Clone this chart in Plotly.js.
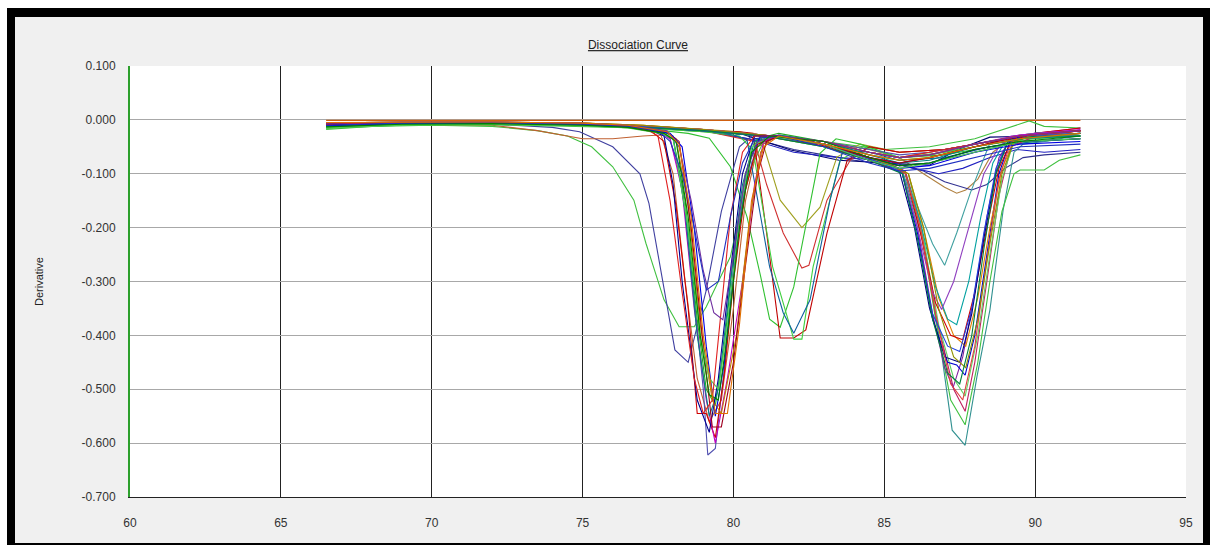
<!DOCTYPE html>
<html><head><meta charset="utf-8">
<script src="https://cdn.plot.ly/plotly-3.0.1.min.js"></script>
<style>
html,body{margin:0;padding:0;background:#fff;}
#frame{position:absolute;left:7px;top:8px;border-style:solid;border-color:#000;border-width:9px 8px 8px 8px;width:1188px;height:526px;background:#f0f0f0;}
#chart{width:1188px;height:526px;}
</style></head><body><div id="frame"><div id="chart"></div></div>
<script>
// ---- tick labels ----
const xTicks = [60, 65, 70, 75, 80, 85, 90, 95];
const xTickText = ['60', '65', '70', '75', '80', '85', '90', '95'];
const yTicks = [0.1, 0, -0.1, -0.2, -0.3, -0.4, -0.5, -0.6, -0.7];
const yTickText = ['0.100', '0.000', '-0.100', '-0.200', '-0.300', '-0.400', '-0.500', '-0.600', '-0.700'];

// ---- curves: temperature (°C) and derivative ----
const tFlat = [66.5, 70, 75, 80, 85, 91.5];
const dFlat = [-0.001, -0.001, -0.001, -0.001, -0.001, -0.001];

// peak near 79 °C
const tA1 = [66.5, 69, 72, 75, 76.5, 77.5, 77.9, 78.3, 78.7, 79.0, 79.15, 79.4, 79.7, 80.0, 80.4, 80.8, 81.5, 83, 84.5, 85.5, 86.5, 88, 89.5, 91.5];
const dA1 = [-0.008, -0.005, -0.005, -0.008, -0.012, -0.02, -0.035, -0.12, -0.33, -0.5, -0.622, -0.61, -0.46, -0.28, -0.12, -0.045, -0.03, -0.04, -0.055, -0.065, -0.06, -0.045, -0.03, -0.025];
const tA2 = [66.5, 69, 72, 75, 76.5, 77.3, 77.7, 78.1, 78.5, 78.8, 79.1, 79.4, 79.7, 80.0, 80.4, 80.8, 81.5, 83, 84.5, 85.5, 86.5, 88, 89.5, 91.5];
const dA2 = [-0.009, -0.006, -0.005, -0.008, -0.013, -0.022, -0.04, -0.16, -0.35, -0.545, -0.545, -0.59, -0.47, -0.3, -0.13, -0.045, -0.03, -0.045, -0.07, -0.08, -0.07, -0.05, -0.03, -0.02];
const tA3 = [66.5, 69, 72, 75, 76.5, 77.5, 77.9, 78.3, 78.7, 79.1, 79.4, 79.8, 80.3, 80.7, 81.0, 81.5, 83, 84.5, 85.5, 86.5, 88, 89.5, 91.5];
const dA3 = [-0.007, -0.005, -0.004, -0.007, -0.011, -0.02, -0.035, -0.13, -0.35, -0.52, -0.6, -0.48, -0.3, -0.12, -0.04, -0.028, -0.04, -0.06, -0.07, -0.065, -0.045, -0.028, -0.018];
const tA4 = [66.5, 69, 72, 75, 76.5, 77.6, 78.0, 78.4, 78.8, 79.1, 79.4, 79.7, 80.0, 80.4, 80.8, 81.5, 83, 84.5, 85.5, 86.5, 88, 89.5, 91.5];
const dA4 = [-0.012, -0.007, -0.006, -0.009, -0.013, -0.022, -0.035, -0.15, -0.37, -0.5, -0.53, -0.42, -0.25, -0.1, -0.035, -0.025, -0.04, -0.065, -0.075, -0.07, -0.05, -0.035, -0.025];
const tA5 = [66.5, 69, 72, 75, 76.5, 77.7, 78.1, 78.5, 78.9, 79.3, 79.6, 80.1, 80.5, 80.9, 81.3, 83, 84.5, 85.5, 86.5, 88, 89.5, 91.5];
const dA5 = [-0.006, -0.004, -0.004, -0.007, -0.011, -0.022, -0.035, -0.16, -0.38, -0.52, -0.545, -0.4, -0.2, -0.06, -0.03, -0.04, -0.06, -0.07, -0.065, -0.045, -0.03, -0.02];
const tA6 = [66.5, 69, 72, 75, 76.5, 77.6, 78.0, 78.4, 78.8, 79.2, 79.5, 79.9, 80.3, 80.7, 81.5, 83, 84.5, 85.5, 86.5, 88, 89.5, 91.5];
const dA6 = [-0.01, -0.006, -0.006, -0.008, -0.012, -0.02, -0.03, -0.17, -0.4, -0.55, -0.5, -0.3, -0.12, -0.04, -0.028, -0.04, -0.065, -0.08, -0.075, -0.05, -0.035, -0.03];
const tA7 = [66.5, 69, 72, 75, 76.5, 77.3, 77.7, 78.0, 78.3, 78.8, 79.2, 79.5, 79.9, 80.3, 80.7, 81.5, 83, 84.5, 85.5, 86.5, 88, 89.5, 91.5];
const dA7 = [-0.009, -0.006, -0.005, -0.008, -0.012, -0.02, -0.03, -0.12, -0.3, -0.52, -0.58, -0.48, -0.28, -0.1, -0.03, -0.03, -0.045, -0.07, -0.085, -0.08, -0.055, -0.04, -0.035];
const tA8 = [66.5, 69, 72, 75, 76.5, 77.8, 78.2, 78.6, 79.0, 79.3, 79.6, 80.0, 80.4, 80.8, 81.1, 81.5, 83, 84.5, 85.5, 86.5, 88, 89.5, 91.5];
const dA8 = [-0.007, -0.005, -0.005, -0.007, -0.011, -0.022, -0.04, -0.2, -0.42, -0.57, -0.57, -0.45, -0.27, -0.1, -0.04, -0.03, -0.045, -0.07, -0.08, -0.07, -0.05, -0.03, -0.02];
const tA9 = [66.5, 69, 72, 75, 76.5, 77.9, 78.3, 78.7, 79.1, 79.4, 79.7, 80.1, 80.5, 80.9, 81.5, 83, 84.5, 85.5, 86.5, 88, 89.5, 91.5];
const dA9 = [-0.011, -0.007, -0.006, -0.009, -0.013, -0.025, -0.05, -0.2, -0.42, -0.55, -0.45, -0.22, -0.08, -0.03, -0.03, -0.045, -0.075, -0.09, -0.085, -0.06, -0.045, -0.04];
const tA10 = [66.5, 69, 72, 75, 76.5, 77.6, 78.0, 78.5, 78.9, 79.2, 79.5, 79.8, 80.2, 80.6, 81.2, 83, 84.5, 85.5, 86.5, 88, 89.5, 91.5];
const dA10 = [-0.015, -0.009, -0.008, -0.011, -0.015, -0.025, -0.035, -0.2, -0.4, -0.48, -0.5, -0.38, -0.18, -0.05, -0.03, -0.045, -0.075, -0.09, -0.08, -0.06, -0.04, -0.035];
const tA11 = [66.5, 69, 72, 75, 76.5, 77.2, 77.5, 77.9, 78.3, 78.7, 79.0, 79.3, 79.6, 79.9, 80.3, 80.7, 81.5, 83, 84.5, 85.5, 86.5, 88, 89.5, 91.5];
const dA11 = [-0.008, -0.005, -0.005, -0.007, -0.012, -0.02, -0.03, -0.15, -0.32, -0.48, -0.545, -0.52, -0.35, -0.18, -0.06, -0.03, -0.03, -0.04, -0.06, -0.07, -0.06, -0.045, -0.03, -0.02];
const tA12 = [66.5, 69, 72, 75, 76.5, 77.8, 78.2, 78.6, 79.0, 79.35, 79.65, 80.0, 80.4, 80.8, 81.5, 83, 84.5, 85.5, 86.5, 88, 89.5, 91.5];
const dA12 = [-0.006, -0.004, -0.004, -0.006, -0.01, -0.02, -0.05, -0.15, -0.28, -0.358, -0.371, -0.25, -0.1, -0.04, -0.03, -0.04, -0.06, -0.07, -0.065, -0.045, -0.03, -0.02];
const tA13 = [66.5, 69, 72, 75, 76.5, 77.5, 77.9, 78.3, 78.7, 79.1, 79.5, 79.9, 80.3, 80.7, 81.5, 83, 84.5, 85.5, 86.5, 88, 89.5, 91.5];
const dA13 = [-0.01, -0.006, -0.005, -0.008, -0.012, -0.02, -0.04, -0.1, -0.2, -0.316, -0.3, -0.18, -0.08, -0.035, -0.03, -0.05, -0.08, -0.095, -0.09, -0.07, -0.05, -0.045];
const tA14 = [66.5, 69, 72, 75, 76.5, 77.7, 78.1, 78.5, 78.9, 79.2, 79.5, 79.8, 80.2, 80.6, 81.2, 83, 84.5, 85.5, 86.5, 88, 89.5, 91.5];
const dA14 = [-0.013, -0.008, -0.007, -0.01, -0.014, -0.025, -0.04, -0.18, -0.4, -0.51, -0.52, -0.4, -0.2, -0.06, -0.03, -0.04, -0.07, -0.085, -0.08, -0.055, -0.04, -0.03];
const tA15 = [66.5, 69, 72, 75, 76.5, 77.8, 78.2, 78.6, 79.0, 79.4, 79.8, 80.2, 80.6, 81.0, 81.5, 83, 84.5, 85.5, 86.5, 88, 89.5, 91.5];
const dA15 = [-0.005, -0.004, -0.004, -0.006, -0.01, -0.022, -0.045, -0.18, -0.4, -0.545, -0.545, -0.38, -0.15, -0.05, -0.03, -0.045, -0.065, -0.075, -0.07, -0.05, -0.035, -0.025];

// early, broad peaks
const tE1 = [66.5, 68, 70, 72, 73.5, 74.5, 75.3, 76.0, 76.7, 77.1, 77.7, 78.2, 78.7, 79.1, 79.5, 79.9, 80.3, 80.6, 81.0, 81.5, 83, 84.5, 85.5, 86.5, 88, 89.5, 91.5];
const dE1 = [-0.018, -0.012, -0.01, -0.012, -0.02, -0.03, -0.05, -0.087, -0.149, -0.229, -0.334, -0.384, -0.384, -0.347, -0.3, -0.254, -0.15, -0.087, -0.04, -0.03, -0.04, -0.06, -0.07, -0.065, -0.05, -0.035, -0.03];
const tE2 = [66.5, 68, 70, 72, 74, 74.9, 76.0, 76.9, 77.2, 77.67, 78.06, 78.5, 79.1, 79.6, 80.2, 80.6, 81.5, 83, 84.5, 85.5, 86.5, 88, 89.5, 91.5];
const dE2 = [-0.012, -0.008, -0.007, -0.008, -0.014, -0.022, -0.05, -0.1, -0.155, -0.3, -0.427, -0.45, -0.316, -0.17, -0.05, -0.03, -0.03, -0.045, -0.07, -0.085, -0.08, -0.06, -0.04, -0.035];
const tE3 = [66.5, 69, 72, 73.5, 75, 76, 77, 77.6, 78.0, 78.4, 78.8, 79.2, 79.6, 80.0, 80.4, 80.8, 81.5, 83, 84.5, 85.5, 86.5, 88, 89.5, 91.5];
const dE3 = [-0.012, -0.008, -0.01, -0.02, -0.035, -0.035, -0.03, -0.028, -0.1, -0.3, -0.48, -0.56, -0.52, -0.35, -0.15, -0.05, -0.03, -0.04, -0.06, -0.07, -0.06, -0.045, -0.03, -0.02];

// peak near 82 °C
const tB1 = [66.5, 69, 72, 75, 77, 79, 80.2, 80.9, 81.55, 82.27, 82.87, 83.43, 84.2, 85.5, 87, 88.5, 90, 91.5];
const dB1 = [-0.006, -0.004, -0.004, -0.006, -0.01, -0.018, -0.022, -0.03, -0.149, -0.2, -0.162, -0.069, -0.045, -0.06, -0.055, -0.04, -0.03, -0.02];
const tB2 = [66.5, 69, 72, 75, 77, 79, 80.7, 81.1, 81.65, 82.27, 82.5, 83.1, 83.87, 84.5, 85.5, 87, 88.5, 90, 91.5];
const dB2 = [-0.008, -0.005, -0.005, -0.007, -0.012, -0.02, -0.04, -0.12, -0.21, -0.275, -0.27, -0.149, -0.075, -0.05, -0.06, -0.055, -0.04, -0.03, -0.02];
const tB3 = [66.5, 69, 72, 75, 77, 78.5, 79.2, 79.9, 80.45, 80.9, 81.2, 81.55, 82.0, 82.45, 82.87, 83.4, 84.2, 85.5, 87, 88.5, 90, 91.5];
const dB3 = [-0.014, -0.009, -0.008, -0.011, -0.016, -0.025, -0.034, -0.087, -0.18, -0.29, -0.37, -0.385, -0.31, -0.18, -0.062, -0.035, -0.045, -0.07, -0.065, -0.05, -0.04, -0.035];
const tB4 = [66.5, 69, 72, 75, 77, 79, 80.2, 80.65, 81.1, 81.55, 82.0, 82.4, 83.1, 83.77, 84.5, 85.5, 87, 88.5, 90, 91.5];
const dB4 = [-0.009, -0.006, -0.005, -0.008, -0.012, -0.02, -0.022, -0.025, -0.21, -0.405, -0.405, -0.39, -0.21, -0.075, -0.05, -0.06, -0.055, -0.04, -0.03, -0.02];
const tB5 = [66.5, 69, 72, 75, 77, 79, 80.2, 80.65, 81.3, 82.0, 82.27, 82.64, 83.53, 84.3, 85.5, 87, 88.5, 90, 91.5];
const dB5 = [-0.015, -0.009, -0.008, -0.011, -0.015, -0.022, -0.03, -0.056, -0.273, -0.407, -0.407, -0.273, -0.075, -0.05, -0.07, -0.06, -0.045, -0.035, -0.03];
const tB6 = [66.5, 69, 72, 75, 77, 79, 80.0, 80.45, 81.2, 81.65, 82.0, 82.54, 83.2, 83.63, 84.5, 85.5, 87, 88.5, 90, 91.5];
const dB6 = [-0.01, -0.006, -0.006, -0.008, -0.012, -0.02, -0.028, -0.037, -0.273, -0.358, -0.396, -0.334, -0.149, -0.056, -0.06, -0.075, -0.07, -0.05, -0.04, -0.035];

// peak near 87.5 °C
const tC1 = [66.5, 69, 72, 75, 77, 79, 81, 83, 84.5, 85.2, 85.6, 86.3, 86.85, 87.25, 87.68, 88.07, 88.5, 88.94, 89.3, 89.6, 90.3, 90.8, 91.5];
const dC1 = [-0.012, -0.008, -0.007, -0.009, -0.013, -0.02, -0.03, -0.045, -0.07, -0.085, -0.093, -0.229, -0.414, -0.576, -0.604, -0.477, -0.353, -0.167, -0.06, -0.045, -0.04, -0.035, -0.03];
const tC2 = [66.5, 69, 72, 75, 77, 79, 81, 83, 84.5, 85.3, 85.7, 86.2, 86.7, 87.2, 87.68, 88.1, 88.5, 88.9, 89.3, 89.5, 90.3, 90.8, 91.5];
const dC2 = [-0.016, -0.01, -0.009, -0.012, -0.015, -0.022, -0.03, -0.05, -0.075, -0.09, -0.1, -0.2, -0.37, -0.52, -0.566, -0.45, -0.3, -0.17, -0.1, -0.093, -0.093, -0.075, -0.065];
const tC3 = [66.5, 69, 72, 75, 77, 79, 81, 83, 84.5, 85.3, 85.7, 86.2, 86.7, 87.3, 87.68, 88.0, 88.4, 88.8, 89.2, 90, 91.5];
const dC3 = [-0.008, -0.005, -0.005, -0.007, -0.011, -0.018, -0.028, -0.045, -0.07, -0.085, -0.095, -0.19, -0.36, -0.5, -0.541, -0.45, -0.3, -0.14, -0.05, -0.03, -0.02];
const tC4 = [66.5, 69, 72, 75, 77, 79, 81, 83, 84.5, 85.2, 85.6, 86.1, 86.6, 87.0, 87.28, 87.6, 88.0, 88.4, 88.8, 89.2, 90, 91.5];
const dC4 = [-0.007, -0.005, -0.005, -0.007, -0.011, -0.018, -0.028, -0.045, -0.07, -0.085, -0.1, -0.2, -0.36, -0.46, -0.497, -0.44, -0.32, -0.18, -0.07, -0.035, -0.025, -0.015];
const tC5 = [66.5, 69, 72, 75, 77, 79, 81, 83, 84.5, 85.3, 85.8, 86.3, 86.8, 87.3, 87.68, 88.1, 88.5, 88.9, 89.3, 90, 91.5];
const dC5 = [-0.014, -0.009, -0.008, -0.01, -0.014, -0.02, -0.03, -0.05, -0.075, -0.09, -0.1, -0.22, -0.38, -0.48, -0.513, -0.4, -0.25, -0.11, -0.04, -0.03, -0.025];
const tC6 = [66.5, 69, 72, 75, 77, 79, 81, 83, 84.5, 85.2, 85.6, 86.1, 86.6, 87.1, 87.4, 87.68, 88.0, 88.4, 88.8, 89.2, 90, 91.5];
const dC6 = [-0.01, -0.006, -0.006, -0.008, -0.012, -0.02, -0.03, -0.045, -0.07, -0.085, -0.1, -0.21, -0.37, -0.45, -0.455, -0.474, -0.4, -0.25, -0.1, -0.035, -0.025, -0.02];
const tC7 = [66.5, 69, 72, 75, 77, 79, 81, 83, 84.5, 85.3, 85.8, 86.3, 86.8, 87.3, 87.7, 88.1, 88.5, 88.9, 89.3, 90, 91.5];
const dC7 = [-0.006, -0.004, -0.004, -0.006, -0.01, -0.018, -0.028, -0.045, -0.07, -0.085, -0.1, -0.2, -0.33, -0.4, -0.42, -0.33, -0.2, -0.09, -0.04, -0.028, -0.02];
const tC8 = [66.5, 69, 72, 75, 77, 79, 81, 83, 84.5, 85.2, 85.7, 86.2, 86.7, 87.2, 87.6, 88.0, 88.4, 88.8, 89.2, 90, 91.5];
const dC8 = [-0.009, -0.006, -0.005, -0.008, -0.012, -0.02, -0.03, -0.048, -0.075, -0.09, -0.1, -0.21, -0.34, -0.4, -0.408, -0.32, -0.2, -0.09, -0.04, -0.025, -0.015];
const tC9 = [66.5, 69, 72, 75, 77, 79, 81, 83, 84.5, 85.1, 85.5, 86.0, 86.5, 87.0, 87.5, 87.9, 88.3, 88.7, 89.1, 90, 91.5];
const dC9 = [-0.009, -0.006, -0.005, -0.008, -0.012, -0.02, -0.03, -0.045, -0.07, -0.085, -0.095, -0.2, -0.35, -0.44, -0.45, -0.36, -0.22, -0.1, -0.04, -0.03, -0.025];
const tC10 = [66.5, 69, 72, 75, 77, 79, 81, 83, 84.5, 85.3, 85.7, 86.2, 86.7, 87.1, 87.4, 87.8, 88.2, 88.6, 89.0, 90, 91.5];
const dC10 = [-0.011, -0.007, -0.006, -0.009, -0.013, -0.02, -0.03, -0.045, -0.07, -0.085, -0.1, -0.19, -0.31, -0.37, -0.38, -0.3, -0.18, -0.08, -0.04, -0.03, -0.025];
const tC11 = [66.5, 69, 72, 75, 77, 79, 81, 83, 84.5, 85.2, 85.6, 86.1, 86.6, 86.9, 87.3, 87.8, 88.3, 88.8, 89.2, 90, 91.5];
const dC11 = [-0.007, -0.005, -0.005, -0.007, -0.011, -0.018, -0.028, -0.045, -0.07, -0.085, -0.1, -0.2, -0.32, -0.352, -0.3, -0.2, -0.1, -0.05, -0.03, -0.025, -0.02];
const tC12 = [66.5, 69, 72, 75, 77, 79, 81, 83, 84.5, 85.2, 85.6, 86.1, 86.6, 87.0, 87.4, 87.85, 88.5, 89.3, 90, 91.5];
const dC12 = [-0.01, -0.006, -0.006, -0.008, -0.012, -0.02, -0.03, -0.045, -0.07, -0.085, -0.1, -0.16, -0.23, -0.27, -0.21, -0.136, -0.043, -0.03, -0.025, -0.02];
const tC13 = [66.5, 69, 72, 75, 77, 79, 81, 83, 84.5, 85.3, 85.7, 86.2, 86.7, 87.2, 87.6, 88.0, 88.4, 88.8, 89.2, 90, 91.5];
const dC13 = [-0.008, -0.005, -0.005, -0.007, -0.011, -0.018, -0.028, -0.045, -0.07, -0.085, -0.1, -0.2, -0.36, -0.49, -0.52, -0.42, -0.26, -0.11, -0.04, -0.028, -0.02];
const tC14 = [66.5, 69, 72, 75, 77, 79, 81, 83, 84.5, 85.2, 85.6, 86.1, 86.6, 87.1, 87.5, 87.9, 88.3, 88.7, 89.1, 90, 91.5];
const dC14 = [-0.011, -0.007, -0.006, -0.009, -0.013, -0.02, -0.03, -0.045, -0.072, -0.088, -0.1, -0.22, -0.36, -0.42, -0.43, -0.35, -0.21, -0.09, -0.04, -0.03, -0.025];
const tC15 = [66.5, 69, 72, 75, 77, 79, 81, 83, 84.5, 85.3, 85.8, 86.3, 86.8, 87.3, 87.7, 88.1, 88.5, 88.9, 89.3, 90, 91.5];
const dC15 = [-0.007, -0.005, -0.004, -0.006, -0.01, -0.018, -0.028, -0.045, -0.07, -0.085, -0.1, -0.2, -0.35, -0.44, -0.46, -0.37, -0.23, -0.1, -0.04, -0.028, -0.02];
const tC16 = [66.5, 69, 72, 75, 77, 79, 81, 83, 84.5, 85.2, 85.6, 86.1, 86.6, 87.1, 87.5, 87.9, 88.3, 88.7, 89.1, 90, 91.5];
const dC16 = [-0.013, -0.008, -0.007, -0.01, -0.014, -0.02, -0.03, -0.05, -0.075, -0.09, -0.1, -0.22, -0.37, -0.47, -0.49, -0.4, -0.24, -0.1, -0.04, -0.03, -0.03];

// shallow / low-level curves
const tS1 = [66.5, 69, 72, 75, 77, 79, 81, 83, 84.5, 85.5, 86.3, 87.0, 87.4, 87.7, 88.1, 88.6, 89.3, 90, 91.5];
const dS1 = [-0.008, -0.005, -0.005, -0.007, -0.011, -0.018, -0.028, -0.04, -0.055, -0.07, -0.1, -0.125, -0.136, -0.13, -0.11, -0.06, -0.03, -0.025, -0.02];
const tS2 = [66.5, 69, 72, 75, 77, 79, 81, 82, 83, 84, 85, 85.6, 86.3, 87.0, 87.9, 88.4, 89.0, 89.6, 90.3, 91.5];
const dS2 = [-0.01, -0.006, -0.006, -0.008, -0.012, -0.02, -0.04, -0.055, -0.065, -0.075, -0.082, -0.085, -0.095, -0.115, -0.13, -0.12, -0.09, -0.07, -0.065, -0.06];
const tS3 = [66.5, 69, 72, 75, 77, 79, 80.2, 81.9, 83.5, 85, 86.5, 87.4, 88.5, 90, 91.5];
const dS3 = [-0.009, -0.006, -0.005, -0.008, -0.012, -0.02, -0.025, -0.056, -0.075, -0.08, -0.084, -0.056, -0.032, -0.03, -0.03];
const tS4 = [66.5, 69, 72, 75, 77, 79, 80.5, 82, 83.5, 85, 86, 86.8, 87.6, 88.5, 89.4, 90.3, 91.5];
const dS4 = [-0.01, -0.006, -0.006, -0.008, -0.012, -0.02, -0.035, -0.06, -0.07, -0.075, -0.09, -0.1, -0.09, -0.07, -0.055, -0.06, -0.055];
const tS5 = [66.5, 69, 72, 75, 77, 79, 81, 83, 85, 86.5, 88, 88.8, 89.3, 89.8, 90.3, 91.5];
const dS5 = [-0.014, -0.009, -0.008, -0.01, -0.014, -0.02, -0.03, -0.04, -0.055, -0.05, -0.035, -0.02, -0.01, -0.002, -0.012, -0.015];

const series = [
  [tFlat, dFlat],
  [tS1, dS1], [tS2, dS2], [tS3, dS3], [tS4, dS4], [tS5, dS5],
  [tE1, dE1], [tE2, dE2], [tE3, dE3],
  [tB1, dB1], [tB2, dB2], [tB3, dB3], [tB4, dB4], [tB5, dB5], [tB6, dB6],
  [tC1, dC1], [tC2, dC2], [tC3, dC3], [tC4, dC4], [tC5, dC5], [tC6, dC6], [tC7, dC7], [tC8, dC8],
  [tC9, dC9], [tC10, dC10], [tC11, dC11], [tC12, dC12], [tC13, dC13], [tC14, dC14], [tC15, dC15], [tC16, dC16],
  [tA1, dA1], [tA2, dA2], [tA3, dA3], [tA4, dA4], [tA5, dA5], [tA6, dA6], [tA7, dA7], [tA8, dA8],
  [tA9, dA9], [tA10, dA10], [tA11, dA11], [tA12, dA12], [tA13, dA13], [tA14, dA14], [tA15, dA15]
];

// ---- styles ----
const seriesColors = [
  '#d06010',
  '#b08040', '#303090', '#000070', '#2020c0', '#40c040',
  '#40c040', '#4040a0', '#c06030',
  '#a0a020', '#d03030', '#30c030', '#c00000', '#40d040', '#1060a0',
  '#309090', '#40c040', '#c02060', '#8020a0', '#60d060', '#0000d0', '#e08000', '#d00000',
  '#000080', '#00a0a0', '#9040c0', '#40a0a0', '#e04040', '#2040e0', '#909000', '#008040',
  '#5050b0', '#d00000', '#c000c0', '#20b020', '#c08000', '#008080', '#000090', '#a00020',
  '#0000e0', '#50d050', '#e02020', '#7030a0', '#2030c0', '#008000', '#e07000'
];

const traces = series.map((s, i) => ({
  x: s[0], y: s[1], type: 'scatter', mode: 'lines',
  line: {color: seriesColors[i], width: 1.1},
  hoverinfo: 'skip', showlegend: false
}));

const baseFont = {family: 'Liberation Sans, Arial, sans-serif', size: 12, color: '#333'};

const layout = {
  width: 1188, height: 526,
  paper_bgcolor: '#f0f0f0', plot_bgcolor: '#ffffff',
  margin: {l: 115, r: 17, t: 49, b: 46, pad: 0},
  font: baseFont,
  title: {
    text: 'Dissociation Curve',
    x: 0.5244, xref: 'container', xanchor: 'center',
    y: 0.947, yref: 'container', yanchor: 'middle',
    font: {family: 'Liberation Sans, Arial, sans-serif', size: 12, color: '#222', lineposition: 'under'}
  },
  xaxis: {
    range: [60, 95], tickmode: 'array', tickvals: xTicks, ticktext: xTickText,
    showgrid: true, gridcolor: '#222', gridwidth: 1,
    showline: true, linecolor: '#222', linewidth: 1, mirror: false,
    zeroline: false, ticks: '', ticklabelstandoff: 15,
    tickfont: {family: 'Liberation Sans, Arial, sans-serif', size: 12, color: '#333'}
  },
  yaxis: {
    range: [-0.7, 0.1], tickmode: 'array', tickvals: yTicks, ticktext: yTickText,
    showgrid: true, gridcolor: '#a8a8a8', gridwidth: 1,
    showline: true, linecolor: '#2ca02c', linewidth: 2, mirror: false,
    zeroline: false, ticks: '', ticklabelstandoff: 10,
    tickfont: {family: 'Liberation Sans, Arial, sans-serif', size: 12, color: '#333'},
    title: {text: 'Derivative', standoff: 36, font: {family: 'Liberation Sans, Arial, sans-serif', size: 11, color: '#222'}}
  }
};

Plotly.newPlot('chart', traces, layout, {displayModeBar: false, staticPlot: true});
</script></body></html>
